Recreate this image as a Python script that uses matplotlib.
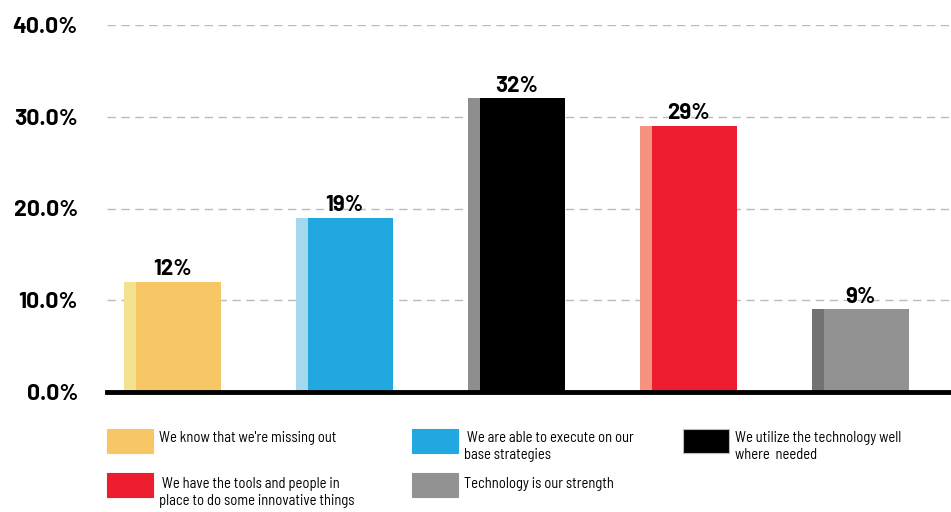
import matplotlib
matplotlib.use("Agg")
import matplotlib.pyplot as plt
from matplotlib.patches import Rectangle

# Survey answers and shares (%)
answers = [
    ["We know that we're missing out"],
    [" We are able to execute on our", "base strategies"],
    ["We utilize the technology well", "where  needed"],
    [" We have the tools and people in", "place to do some innovative things"],
    ["Technology is our strength"],
]
shares = [12, 19, 32, 29, 9]
main_colors = ["#F8C765", "#21A8E0", "#000000", "#ED1C2E", "#929292"]
side_colors = ["#F5E290", "#A4D9ED", "#8E8E8E", "#F4937E", "#727272"]
y_ticks = [0, 10, 20, 30, 40]

fallback = ["DejaVu Sans"]

fig = plt.figure(figsize=(9.51, 5.12), dpi=100)
ax = fig.add_axes([107 / 951, 1 - 392 / 512, 843 / 951, 367 / 512])

bar_w = 0.564
side_w = 0.07
for i, (v, c, sc) in enumerate(zip(shares, main_colors, side_colors)):
    left = i - bar_w / 2
    ax.bar(left, v, width=side_w, align="edge", color=sc, zorder=2)
    ax.bar(left + side_w, v, width=bar_w - side_w, align="edge", color=c, zorder=2)
    ax.text(i, v + 0.75, f"{v}%", ha="center", va="baseline",
            fontsize=16, fontweight="bold", family=["Barlow"] + fallback)

ax.set_xlim(-0.381, 4.52)
ax.set_ylim(0, 40)
ax.set_yticks(y_ticks)
ax.set_yticklabels([f"{t:.1f}%" for t in y_ticks], fontsize=16.5,
                   fontweight="bold", family=["Barlow"] + fallback)
ax.tick_params(axis="y", length=0, pad=21)
ax.set_xticks([])
for t in y_ticks[1:]:
    ax.axhline(t, color="#BBBBBB", lw=1, ls=(0, (6, 4)), zorder=1)
for s in ax.spines.values():
    s.set_visible(False)
ax.axhline(0, color="black", lw=3.5, zorder=3, clip_on=False)

# Legend drawn by hand in pixel positions: swatch top-left, first text baseline
W, H = 951, 512
swatch_pos = [(107, 429), (412, 429), (683, 429), (107, 473), (412, 473)]
first_baseline = [442, 442, 442, 488, 488]
line_step = 17
for (x, y), b, c, lines in zip(swatch_pos, first_baseline, main_colors, answers):
    fig.patches.append(Rectangle((x / W, 1 - (y + 24) / H), 46 / W, 24 / H,
                                 transform=fig.transFigure, color=c,
                                 ec="#BBBBBB" if c == "#000000" else c, lw=0.8))
    for k, line in enumerate(lines):
        fig.text((x + 52) / W, 1 - (b + k * line_step) / H, line,
                 ha="left", va="baseline", fontsize=10.5,
                 family=["Barlow Semi Condensed"] + fallback)

plt.savefig("out.png", dpi=100)
